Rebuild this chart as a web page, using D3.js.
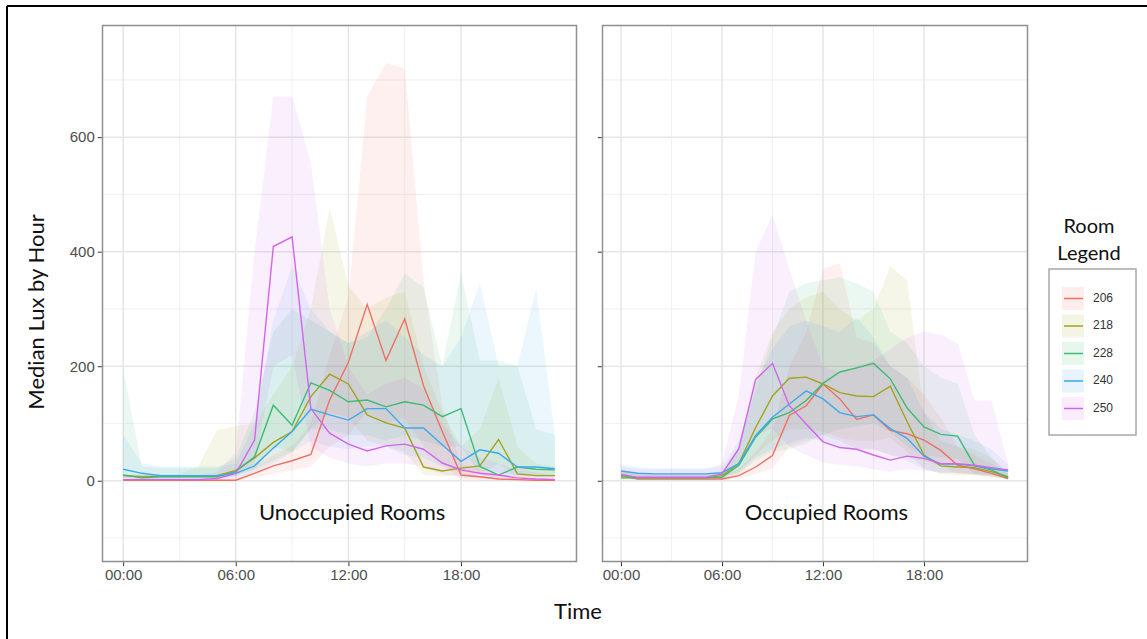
<!DOCTYPE html>
<html>
<head>
<meta charset="utf-8">
<script src="https://cdn.jsdelivr.net/npm/d3@7/dist/d3.min.js"></script>
<style>
  body { margin: 0; background: #fff; }
  .axis text { font-family: "Liberation Sans", Arial, sans-serif; font-size: 15px; fill: #4d4d4d; }
  .axis line { stroke: #333; }
  .title { font-family: Lato, "Open Sans", sans-serif; fill: #111; }
</style>
</head>
<body>
<div class="chart"></div>
<script>
// hour of day (x values)
var hours = [0,1,2,3,4,5,6,7,8,9,10,11,12,13,14,15,16,17,18,19,20,21,22,23];
var rooms = ["206", "218", "228", "240", "250"];
var roomColors = ["#ef6f65", "#a3a21c", "#3dbb74", "#3ea8ee", "#d264ec"];

var yTicks = [0, 200, 400, 600];
var yMinor = [-100, 100, 300, 500, 700];
var xTicks = [0, 6, 12, 18];
var xMinor = [3, 9, 15];

// ---- Unoccupied rooms: median lux, lower / upper band ----
var un206 = [1,1,1,1,1,1,1,13,26,35,46,141,207,308,210,283,166,86,10,7,3,2,1,1];
var un206Lo = [0,0,0,0,0,0,0,5,12,18,25,60,80,120,100,110,60,30,2,1,0,0,0,0];
var un206Hi = [5,5,5,5,5,5,5,25,45,60,100,220,320,670,730,720,350,130,30,20,10,5,5,5];

var un218 = [9,7,8,8,8,9,18,40,67,86,147,186,169,115,101,92,24,17,22,26,72,12,9,9];
var un218Lo = [5,4,5,5,5,5,10,20,35,50,90,120,110,70,60,50,10,8,10,12,30,5,4,4];
var un218Hi = [12,12,12,12,25,88,95,100,150,200,300,477,340,300,320,330,200,120,60,90,180,60,30,25];

var un228 = [10,5,7,7,7,7,16,42,132,97,171,158,138,141,129,138,132,112,126,25,10,24,20,19];
var un228Lo = [5,2,3,3,3,3,8,20,60,50,90,90,80,80,70,80,70,60,60,10,5,10,8,8];
var un228Hi = [195,25,22,22,22,22,40,120,260,300,280,260,240,250,300,362,338,200,362,210,210,200,90,80];

var un240 = [20,13,9,9,9,9,13,26,57,86,125,115,106,126,126,92,92,63,34,54,48,24,24,21];
var un240Lo = [10,5,4,4,4,4,6,12,30,50,70,60,55,60,60,45,40,25,15,20,15,8,8,8];
var un240Hi = [80,30,25,25,25,25,30,100,280,375,300,260,240,260,280,250,220,200,250,345,200,200,335,80];

var un250 = [2,2,2,2,2,4,13,71,409,426,126,83,64,52,61,64,55,31,19,13,10,5,3,2];
var un250Lo = [0,0,0,0,0,1,5,30,200,220,60,40,30,25,30,30,25,12,6,4,3,2,1,0];
var un250Hi = [10,10,10,10,10,15,50,400,671,671,555,300,200,150,170,180,160,100,60,40,30,20,15,10];

// ---- Occupied rooms ----
var oc206 = [9,3,3,3,3,3,3,9,24,44,114,131,169,143,107,115,88,82,71,53,27,21,13,4];
var oc206Lo = [4,1,1,1,1,1,1,4,12,22,60,70,80,70,55,55,45,40,35,25,12,10,6,2];
var oc206Hi = [18,10,10,10,10,10,10,20,50,90,200,260,370,380,250,240,200,180,150,110,60,45,30,12];

var oc218 = [8,5,5,5,5,5,9,30,93,148,179,181,169,154,148,147,165,103,45,26,24,23,16,7];
var oc218Lo = [4,2,2,2,2,2,4,15,45,70,90,90,85,75,70,70,75,50,22,12,10,10,7,3];
var oc218Hi = [18,12,12,12,12,12,16,60,180,260,300,320,330,300,280,300,375,350,120,70,60,55,40,15];

var oc228 = [5,5,5,5,5,5,6,27,76,108,119,140,170,190,197,205,178,127,94,81,78,27,19,5];
var oc228Lo = [2,2,2,2,2,2,3,12,35,50,55,65,80,90,95,100,85,60,45,40,38,12,8,2];
var oc228Hi = [15,12,12,12,12,12,14,60,160,250,330,345,350,355,345,330,260,240,200,180,170,80,40,12];

var oc240 = [17,13,12,12,12,12,14,30,79,111,134,157,143,119,112,115,91,74,43,29,29,26,21,17];
var oc240Lo = [8,6,6,6,6,6,7,15,40,55,65,75,70,58,55,55,45,35,20,14,14,12,10,8];
var oc240Hi = [28,24,22,22,22,22,25,70,170,230,270,280,270,260,285,250,200,180,120,90,80,70,55,28];

var oc250 = [11,6,6,6,6,6,12,56,177,205,131,99,68,58,55,45,36,43,39,30,30,27,23,19];
var oc250Lo = [5,3,3,3,3,3,6,25,80,90,60,45,32,28,25,20,16,20,18,14,14,12,10,8];
var oc250Hi = [25,20,20,20,20,20,30,150,400,465,370,280,200,190,200,210,230,250,260,255,240,140,140,30];

var panels = [
    {label: "Unoccupied Rooms", x0: 102.5, x1: 576.5,
     med: [un206, un218, un228, un240, un250],
     lo: [un206Lo, un218Lo, un228Lo, un240Lo, un250Lo],
     hi: [un206Hi, un218Hi, un228Hi, un240Hi, un250Hi]},
    {label: "Occupied Rooms", x0: 602.5, x1: 1027.5,
     med: [oc206, oc218, oc228, oc240, oc250],
     lo: [oc206Lo, oc218Lo, oc228Lo, oc240Lo, oc250Lo],
     hi: [oc206Hi, oc218Hi, oc228Hi, oc240Hi, oc250Hi]}
];

const width = 1147, height = 639;
const plotTop = 25.5, plotBottom = 561.5;

var svg = d3.select(".chart")
    .append("svg")
    .attr("width", width)
    .attr("height", height);

// outer frame (top + left edges only visible)
svg.append("line").attr("x1", 7).attr("y1", 6).attr("x2", width).attr("y2", 6)
    .attr("stroke", "#000").attr("stroke-width", 2);
svg.append("line").attr("x1", 7).attr("y1", 6).attr("x2", 7).attr("y2", height)
    .attr("stroke", "#000").attr("stroke-width", 2);

var yScale = d3.scaleLinear()
    .domain([-141, 795])
    .range([plotBottom, plotTop]);

panels.forEach(function(p, pi) {
    var xScale = d3.scaleLinear()
        .domain([-1.1, 24.15])
        .range([p.x0, p.x1]);

    var g = svg.append("g");
    var clipId = "clip" + pi;
    svg.append("clipPath").attr("id", clipId)
        .append("rect")
        .attr("x", p.x0).attr("y", plotTop)
        .attr("width", p.x1 - p.x0).attr("height", plotBottom - plotTop);

    // grid
    yMinor.forEach(function(v) {
        g.append("line").attr("x1", p.x0).attr("x2", p.x1)
            .attr("y1", yScale(v)).attr("y2", yScale(v))
            .attr("stroke", "#f2f2f2").attr("stroke-width", 1.2);
    });
    xMinor.forEach(function(v) {
        g.append("line").attr("y1", plotTop).attr("y2", plotBottom)
            .attr("x1", xScale(v)).attr("x2", xScale(v))
            .attr("stroke", "#f2f2f2").attr("stroke-width", 1.2);
    });
    yTicks.forEach(function(v) {
        g.append("line").attr("x1", p.x0).attr("x2", p.x1)
            .attr("y1", yScale(v)).attr("y2", yScale(v))
            .attr("stroke", "#e6e6e6").attr("stroke-width", 1.5);
    });
    xTicks.forEach(function(v) {
        g.append("line").attr("y1", plotTop).attr("y2", plotBottom)
            .attr("x1", xScale(v)).attr("x2", xScale(v))
            .attr("stroke", "#e6e6e6").attr("stroke-width", 1.5);
    });

    var area = d3.area()
        .x(function(d, i) { return xScale(hours[i]); })
        .y0(function(d) { return yScale(d[0]); })
        .y1(function(d) { return yScale(d[1]); });

    var line = d3.line()
        .x(function(d, i) { return xScale(hours[i]); })
        .y(function(d) { return yScale(d); });

    var data = g.append("g").attr("clip-path", "url(#" + clipId + ")");

    // ribbons
    rooms.forEach(function(r, k) {
        var band = hours.map(function(h, i) { return [p.lo[k][i], p.hi[k][i]]; });
        data.append("path")
            .datum(band)
            .attr("d", area)
            .attr("fill", roomColors[k])
            .attr("fill-opacity", 0.1);
    });

    // median lines
    rooms.forEach(function(r, k) {
        data.append("path")
            .datum(p.med[k])
            .attr("d", line)
            .attr("fill", "none")
            .attr("stroke", roomColors[k])
            .attr("stroke-width", 1.4);
    });

    // panel caption
    g.append("text")
        .attr("class", "title")
        .attr("x", xScale(12.2))
        .attr("y", yScale(-58))
        .attr("text-anchor", "middle")
        .attr("dominant-baseline", "middle")
        .attr("font-size", 22)
        .text(p.label);

    // border
    g.append("rect")
        .attr("x", p.x0).attr("y", plotTop)
        .attr("width", p.x1 - p.x0).attr("height", plotBottom - plotTop)
        .attr("fill", "none")
        .attr("stroke", "#8f8f8f")
        .attr("stroke-width", 1.5);

    // axes
    var yAxis = d3.axisLeft(yScale)
        .tickValues(yTicks)
        .tickSize(4)
        .tickPadding(3);
    if (pi > 0) yAxis.tickFormat("");
    var yAxisDisplay = svg.append("g")
        .attr("class", "axis")
        .attr("transform", "translate(" + (p.x0 - 0.75) + ",0)")
        .call(yAxis);
    yAxisDisplay.select(".domain").remove();

    var xAxis = d3.axisBottom(xScale)
        .tickValues(xTicks)
        .tickSize(4)
        .tickPadding(3)
        .tickFormat(function(h) { return d3.format("02")(h) + ":00"; });
    var xAxisDisplay = svg.append("g")
        .attr("class", "axis")
        .attr("transform", "translate(0," + (plotBottom + 0.75) + ")")
        .call(xAxis);
    xAxisDisplay.select(".domain").remove();
});

// axis titles
svg.append("text")
    .attr("class", "title")
    .attr("transform", "translate(38," + 312 + ") rotate(-90)")
    .attr("text-anchor", "middle")
    .attr("dominant-baseline", "middle")
    .attr("font-size", 22)
    .text("Median Lux by Hour");

svg.append("text")
    .attr("class", "title")
    .attr("x", 578)
    .attr("y", 613)
    .attr("text-anchor", "middle")
    .attr("dominant-baseline", "middle")
    .attr("font-size", 22)
    .text("Time");

// legend
var legend = svg.append("g");
legend.append("text").attr("class", "title")
    .attr("x", 1089).attr("y", 233)
    .attr("text-anchor", "middle").attr("font-size", 20)
    .text("Room");
legend.append("text").attr("class", "title")
    .attr("x", 1089).attr("y", 260)
    .attr("text-anchor", "middle").attr("font-size", 20)
    .text("Legend");
legend.append("rect")
    .attr("x", 1049).attr("y", 269)
    .attr("width", 87).attr("height", 166)
    .attr("fill", "#fff")
    .attr("stroke", "#a8a8a8")
    .attr("stroke-width", 1.5);

var keys = legend.selectAll(".key")
    .data(rooms)
    .enter()
    .append("g")
    .attr("class", "key")
    .attr("transform", function(d, i) { return "translate(1062," + (287 + i * 27.5) + ")"; });
keys.append("rect")
    .attr("width", 22).attr("height", 23)
    .attr("fill", function(d, i) { return roomColors[i]; })
    .attr("fill-opacity", 0.12);
keys.append("line")
    .attr("x1", 2).attr("x2", 21)
    .attr("y1", 11.5).attr("y2", 11.5)
    .attr("stroke", function(d, i) { return roomColors[i]; })
    .attr("stroke-width", 1.5);
keys.append("text")
    .attr("x", 31).attr("y", 11.5)
    .attr("dominant-baseline", "middle")
    .attr("font-family", "Liberation Sans, Arial, sans-serif")
    .attr("font-size", 12)
    .attr("fill", "#333")
    .text(function(d) { return d; });
</script>
</body>
</html>
